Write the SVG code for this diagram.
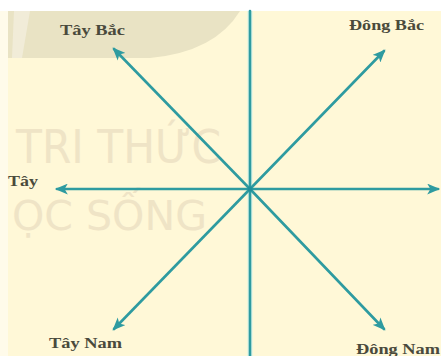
<svg xmlns="http://www.w3.org/2000/svg" width="441" height="356" viewBox="0 0 441 356">
<style>
.lbl{font-family:"Liberation Serif","Times New Roman",serif;font-weight:bold;font-size:15px;fill:#4a4a3c}
.wm{font-family:"DejaVu Sans Condensed","DejaVu Sans",sans-serif;fill:#efe4c6}
.ax{stroke:#2e9ba0;stroke-width:2.6;fill:none;stroke-linecap:round}
.glow{stroke:#c9f2ee;stroke-width:5;fill:none;opacity:0.7}
</style>
<defs>
<marker id="ah" viewBox="0 0 12 10" refX="10" refY="5" markerWidth="13" markerHeight="11" markerUnits="userSpaceOnUse" orient="auto">
<path d="M0,0 L12,5 L0,10 L3,5 z" fill="#2e9ba0"/>
</marker>
</defs>
<rect x="0" y="0" width="441" height="356" fill="#fff8d7"/>
<rect x="0" y="0" width="441" height="11" fill="#ffffff"/>
<rect x="0" y="11" width="8" height="345" fill="#fffbea"/>
<path d="M8,11 L240,11 Q215,52 150,58 L8,58 Z" fill="#e9e3c4"/>
<path d="M14,11 L30,11 L22,58 L12,58 Z" fill="#f1ecd8"/>
<g id="watermark">
<text class="wm" x="16" y="163" font-size="46" textLength="205" lengthAdjust="spacingAndGlyphs">TRI THỨC</text>
<text class="wm" x="12" y="230" font-size="41" textLength="195" lengthAdjust="spacingAndGlyphs">ỌC SỐNG</text>
</g>
<g id="connectors">
<line class="glow" x1="250" y1="11" x2="250" y2="356"/>
<line class="ax" x1="250" y1="11" x2="250" y2="356"/>
<line class="ax" x1="250" y1="189" x2="57" y2="189" marker-end="url(#ah)"/>
<line class="ax" x1="250" y1="189" x2="438" y2="189" marker-end="url(#ah)"/>
<line class="ax" x1="250" y1="189" x2="114" y2="49" marker-end="url(#ah)"/>
<line class="ax" x1="250" y1="189" x2="384" y2="51" marker-end="url(#ah)"/>
<line class="ax" x1="250" y1="189" x2="114" y2="329" marker-end="url(#ah)"/>
<line class="ax" x1="250" y1="189" x2="384" y2="329" marker-end="url(#ah)"/>
<circle cx="250" cy="189" r="2.5" fill="#1f8f9a"/>
</g>
<g id="tay-bac"><text class="lbl" x="60" y="35" textLength="65" lengthAdjust="spacingAndGlyphs">Tây Bắc</text></g>
<g id="dong-bac"><text class="lbl" x="349" y="30" textLength="75" lengthAdjust="spacingAndGlyphs">Đông Bắc</text></g>
<g id="tay"><text class="lbl" x="8" y="186" textLength="30" lengthAdjust="spacingAndGlyphs">Tây</text></g>
<g id="tay-nam"><text class="lbl" x="49" y="348" textLength="73" lengthAdjust="spacingAndGlyphs">Tây Nam</text></g>
<g id="dong-nam"><text class="lbl" x="356" y="354" textLength="84" lengthAdjust="spacingAndGlyphs">Đông Nam</text></g>
</svg>
